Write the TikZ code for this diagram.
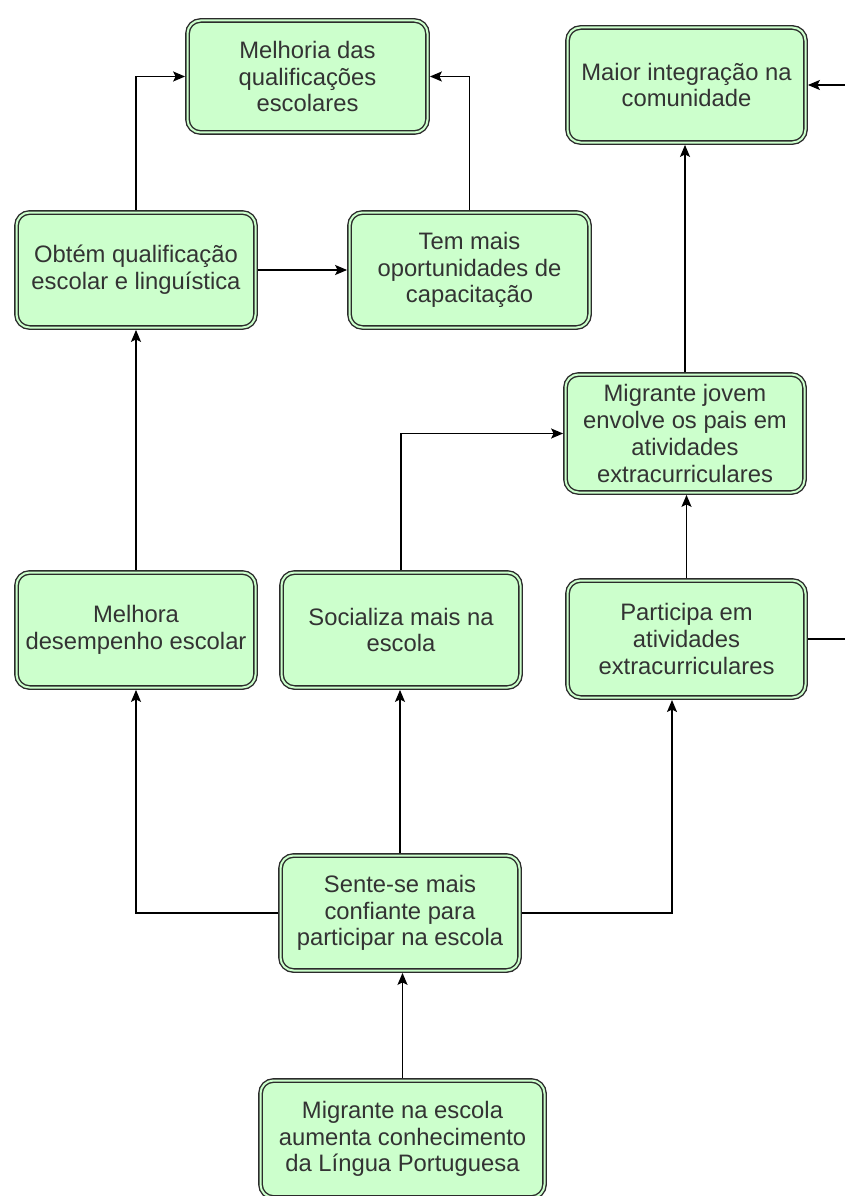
\documentclass[tikz,border=0pt]{standalone}
\usepackage{fontspec}
\setmainfont{Liberation Sans}
\usetikzlibrary{arrows.meta}
\definecolor{boxfill}{HTML}{CCFFCC}
\definecolor{boxline}{HTML}{2B2B2B}
\definecolor{txt}{HTML}{333333}
\tikzset{
  box/.style={rectangle, rounded corners=13pt, draw=boxline, line width=1.4pt,
    double=boxfill, double distance=2pt, fill=boxfill, outer sep=2.4pt,
    align=center, text=txt, font=\fontsize{23.8}{26.7}\selectfont, inner sep=0pt},
  arr/.style={draw=black, line width=1.6pt, -{Stealth[length=12pt,width=10pt,inset=2.5pt]}}
}
\begin{document}
\begin{tikzpicture}[x=1pt,y=-1pt]
\useasboundingbox (0,0) rectangle (844,1196);
\fill[white] (0,0) rectangle (844,1196);
\node[box, minimum width=240pt, minimum height=112pt] (mel) at (307.5,76.5) {Melhoria das\\qualificações\\escolares};
\node[box, minimum width=238pt, minimum height=115pt] (mai) at (686.5,85) {Maior integração na\\comunidade};
\node[box, minimum width=239pt, minimum height=115pt] (obt) at (136,270) {Obtém qualificação\\escolar e linguística};
\node[box, minimum width=240pt, minimum height=115pt] (tem) at (469.5,270) {Tem mais\\oportunidades de\\capacitação};
\node[box, minimum width=239pt, minimum height=118pt] (jov) at (685,433.5) {Migrante jovem\\envolve os pais em\\atividades\\extracurriculares};
\node[box, minimum width=239pt, minimum height=115pt] (mlh) at (136,630) {Melhora\\desempenho escolar};
\node[box, minimum width=239pt, minimum height=115pt] (soc) at (401,630) {Socializa mais na\\escola};
\node[box, minimum width=238pt, minimum height=117pt] (par) at (686.5,639) {Participa em\\atividades\\extracurriculares};
\node[box, minimum width=239pt, minimum height=115pt] (sen) at (400,913) {Sente-se mais\\confiante para\\participar na escola};
\node[box, minimum width=284pt, minimum height=117pt] (mig) at (402.5,1139) {Migrante na escola\\aumenta conhecimento\\da Língua Portuguesa};
\coordinate (off) at (880,0);
\coordinate (parb) at (672,700);
\draw[arr] (sen.west) -| (mlh.south);
\draw[arr] (sen.north) -- (sen.north |- soc.south);
\draw[arr] (sen.east) -| (parb);
\draw[arr] (mig.north) -- (mig.north |- sen.south);
\draw[arr] (mlh.north) -- (obt.south);
\draw[arr] (obt.east) -- (tem.west);
\draw[arr] (obt.north) |- (mel.west);
\draw[arr] (tem.north) |- (mel.east);
\draw[arr] (soc.north) |- (jov.west);
\draw[arr] (par.north) -- (par.north |- jov.south);
\draw[arr] (jov.north) -- (jov.north |- mai.south);
\draw[arr] (par.east) -- (par.east -| off) -- (off |- mai.east) -- (mai.east);
\end{tikzpicture}
\end{document}
